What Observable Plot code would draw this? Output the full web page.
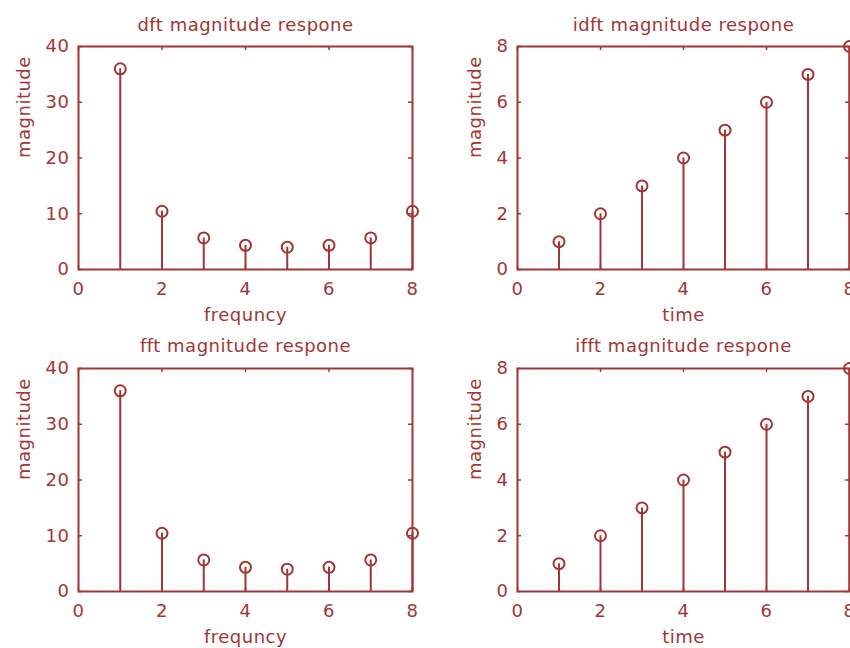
<!DOCTYPE html>
<html><head><meta charset="utf-8">
<script src="https://cdn.jsdelivr.net/npm/d3@7"></script>
<script src="https://cdn.jsdelivr.net/npm/@observablehq/plot@0.6"></script>
<style>
body{margin:0;background:#fff;}
#wrap{position:relative;width:850px;height:648px;overflow:hidden;background:#fff;}
#wrap svg{position:absolute;overflow:visible;max-width:none;background:transparent;}
</style></head><body><div id="wrap"></div>
<script>
const freqIndex = [1, 2, 3, 4, 5, 6, 7, 8];
const dftMag = [36, 10.45, 5.66, 4.33, 4, 4.33, 5.66, 10.45];
const fftMag = [36, 10.45, 5.66, 4.33, 4, 4.33, 5.66, 10.45];
const timeIndex = [1, 2, 3, 4, 5, 6, 7, 8];
const idftMag = [1, 2, 3, 4, 5, 6, 7, 8];
const ifftMag = [1, 2, 3, 4, 5, 6, 7, 8];
const xTicks = [0, 2, 4, 6, 8];
const yTicksFreq = [0, 10, 20, 30, 40];
const yTicksTime = [0, 2, 4, 6, 8];
const titles = ["dft magnitude respone", "idft magnitude respone", "fft magnitude respone", "ifft magnitude respone"];
const xLabels = ["frequncy", "time", "frequncy", "time"];
const yLabel = "magnitude";

const COLOR = "#a33535";
const wrap = document.getElementById("wrap");

function panel({left, top, width, height, mL, mR, mT, mB, xs, ys, yDomain, yTicks, title, xLabel, yLabelDx, titleDy}) {
  const data = xs.map((x, i) => ({x, y: ys[i]}));
  const innerW = width - mL - mR, innerH = height - mT - mB;
  const plot = Plot.plot({
    width, height,
    marginLeft: mL, marginRight: mR, marginTop: mT, marginBottom: mB,
    style: {fontFamily: "DejaVu Sans", fontSize: "18px", color: COLOR, background: "transparent", letterSpacing: "0.5px"},
    x: {domain: [0, 8], ticks: xTicks, label: null},
    y: {domain: yDomain, ticks: yTicks, label: null},
    marks: [
      Plot.axisX(xTicks, {tickSize: 0, tickPadding: 13, label: null}),
      Plot.axisY(yTicks, {tickSize: 0, tickPadding: 9, label: null}),
      Plot.tickX(xTicks, {x: d => d, insetTop: innerH - 4, stroke: COLOR, strokeWidth: 1.5}),
      Plot.tickX(xTicks, {x: d => d, insetBottom: innerH - 4, stroke: COLOR, strokeWidth: 1.5}),
      Plot.tickY(yTicks, {y: d => d, insetLeft: innerW - 4, stroke: COLOR, strokeWidth: 1.5}),
      Plot.tickY(yTicks, {y: d => d, insetRight: innerW - 4, stroke: COLOR, strokeWidth: 1.5}),
      Plot.ruleX(data, {x: "x", y1: 0, y2: "y", stroke: COLOR, strokeWidth: 2}),
      Plot.dot(data, {x: "x", y: "y", r: 5.5, stroke: COLOR, strokeWidth: 2, fill: "none"}),
      Plot.frame({stroke: COLOR, strokeWidth: 2}),
      Plot.text([title], {text: d => d, frameAnchor: "top", dy: titleDy, lineAnchor: "bottom", fill: COLOR}),
      Plot.text([xLabel], {text: d => d, frameAnchor: "bottom", dy: 51, lineAnchor: "bottom", fill: COLOR}),
      Plot.text([yLabel], {text: d => d, frameAnchor: "left", dx: yLabelDx, rotate: -90, lineAnchor: "bottom", fill: COLOR})
    ]
  });
  plot.style.left = left + "px";
  plot.style.top = top + "px";
  wrap.appendChild(plot);
}

panel({left: 0, top: 0, width: 425, height: 330, mL: 78, mR: 13, mT: 46, mB: 61,
  xs: freqIndex, ys: dftMag, yDomain: [0, 40], yTicks: yTicksFreq, title: titles[0], xLabel: xLabels[0], yLabelDx: -49, titleDy: -16});
panel({left: 425, top: 0, width: 425, height: 330, mL: 92, mR: 1, mT: 46, mB: 61,
  xs: timeIndex, ys: idftMag, yDomain: [0, 8], yTicks: yTicksTime, title: titles[1], xLabel: xLabels[1], yLabelDx: -37, titleDy: -16});
panel({left: 0, top: 322, width: 425, height: 326, mL: 78, mR: 13, mT: 46, mB: 57,
  xs: freqIndex, ys: fftMag, yDomain: [0, 40], yTicks: yTicksFreq, title: titles[2], xLabel: xLabels[2], yLabelDx: -49, titleDy: -17});
panel({left: 425, top: 322, width: 425, height: 326, mL: 92, mR: 1, mT: 46, mB: 57,
  xs: timeIndex, ys: ifftMag, yDomain: [0, 8], yTicks: yTicksTime, title: titles[3], xLabel: xLabels[3], yLabelDx: -37, titleDy: -17});
</script>
</body></html>
